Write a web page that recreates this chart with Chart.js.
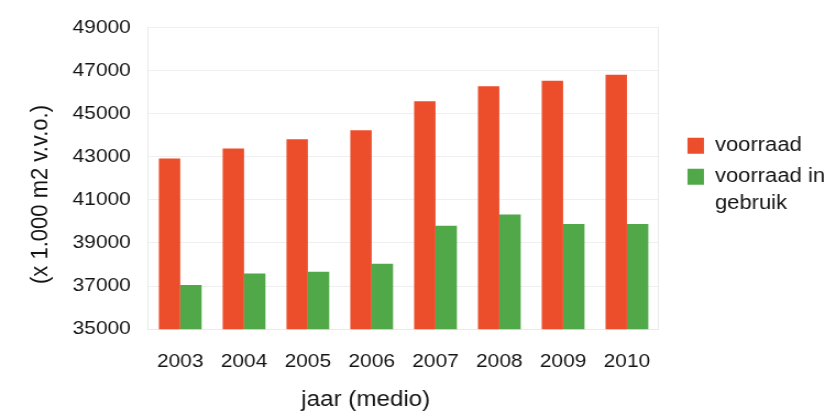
<!DOCTYPE html>
<html>
<head>
<meta charset="utf-8">
<script src="https://cdn.jsdelivr.net/npm/chart.js@4.4.1/dist/chart.umd.min.js"></script>
<style>
  html, body { margin: 0; padding: 0; background: #ffffff; overflow: hidden; }
  #wrap { width: 752px; height: 417px; transform: scaleX(1.1); transform-origin: 0 0; }
  canvas { display: block; }
</style>
</head>
<body>
<div id="wrap"><canvas id="c" width="752" height="417"></canvas></div>
<script>
// Kantoorvoorraad per jaar (medio), in 1.000 m2 v.v.o.
const years = ['2003', '2004', '2005', '2006', '2007', '2008', '2009', '2010'];
const voorraad = [42920, 43380, 43810, 44230, 45580, 46270, 46530, 46800];
const voorraadInGebruik = [37050, 37580, 37670, 38040, 39800, 40320, 39880, 39880];
const seriesNames = ['voorraad', 'voorraad in gebruik'];
const legendLines = [['voorraad'], ['voorraad in', 'gebruik']];
const yTicksMin = 35000;
const yTicksMax = 49000;
const yTicksStep = 2000;
const yTitle = '(x 1.000 m2 v.v.o.)';
const xTitle = 'jaar (medio)';

const FONT = '"Liberation Sans", Arial, Helvetica, sans-serif';
const TEXT = '#151515';
const TICK_SIZE = 19;
const TITLE_SIZE = 22;
const X_TICK_PAD = 21;
const Y_TICK_PAD = 16;

// Axis titles: the x title is centred under the plot plus the value labels,
// the y title beside the plot plus the category labels.
const axisTitles = {
  id: 'axisTitles',
  afterDraw(chart) {
    const { ctx, chartArea: a, scales } = chart;
    ctx.save();
    ctx.font = TICK_SIZE + 'px ' + FONT;
    let widest = 0;
    scales.y.ticks.forEach(t => { widest = Math.max(widest, ctx.measureText(String(t.value)).width); });
    const labelsLeft = a.left - Y_TICK_PAD - widest;
    const xLabelMid = a.bottom + X_TICK_PAD + TICK_SIZE * 0.6;

    ctx.font = TITLE_SIZE + 'px ' + FONT;
    ctx.fillStyle = TEXT;
    ctx.textAlign = 'center';
    ctx.textBaseline = 'middle';
    ctx.fillText(xTitle, (labelsLeft + a.right) / 2, chart.height - 17);

    ctx.translate(37, (a.top + xLabelMid) / 2);
    ctx.rotate(-Math.PI / 2);
    ctx.fillText(yTitle, 0, 0);
    ctx.restore();
  }
};

new Chart(document.getElementById('c'), {
  type: 'bar',
  data: {
    labels: years,
    datasets: [
      { label: seriesNames[0], data: voorraad, backgroundColor: '#ec4e2b', borderWidth: 0, yAxisID: 'y' },
      { label: seriesNames[1], data: voorraadInGebruik, backgroundColor: '#50a848', borderWidth: 0, yAxisID: 'y' }
    ]
  },
  options: {
    responsive: false,
    animation: false,
    devicePixelRatio: 1,
    layout: { padding: { left: 50, right: -8, top: 9, bottom: 23 } },
    datasets: { bar: { barPercentage: 1.0, categoryPercentage: 0.67 } },
    scales: {
      x: {
        grid: { display: false, drawTicks: false, tickLength: 0 },
        border: { display: true, color: '#eaeaea' },
        ticks: { color: TEXT, font: { family: FONT, size: TICK_SIZE }, padding: X_TICK_PAD, maxRotation: 0 }
      },
      y: {
        position: 'left',
        min: yTicksMin,
        max: yTicksMax,
        grid: { color: '#efefef', drawTicks: false, tickLength: 0 },
        border: { display: true, color: '#eaeaea' },
        ticks: {
          stepSize: yTicksStep,
          color: TEXT,
          font: { family: FONT, size: TICK_SIZE },
          padding: Y_TICK_PAD,
          callback: v => String(v)
        }
      },
      // right-hand edge of the plot frame, with a small gap before the legend
      frame: {
        type: 'linear',
        position: 'right',
        grid: { display: false, drawTicks: true, tickLength: 15 },
        border: { display: true, color: '#eaeaea' },
        ticks: { display: false }
      }
    },
    plugins: {
      tooltip: { enabled: false },
      legend: {
        position: 'right',
        align: 'center',
        fullSize: false,
        maxWidth: 200,
        labels: {
          boxWidth: 15,
          boxHeight: 16,
          padding: 11,
          color: TEXT,
          font: { family: FONT, size: 20, lineHeight: 1.35 },
          generateLabels(chart) {
            const items = Chart.defaults.plugins.legend.labels.generateLabels(chart);
            items.forEach((it, i) => {
              const lines = legendLines[i];
              it.text = lines.length > 1 ? lines : lines[0];
            });
            return items;
          }
        }
      }
    }
  },
  plugins: [axisTitles]
});
</script>
</body>
</html>
